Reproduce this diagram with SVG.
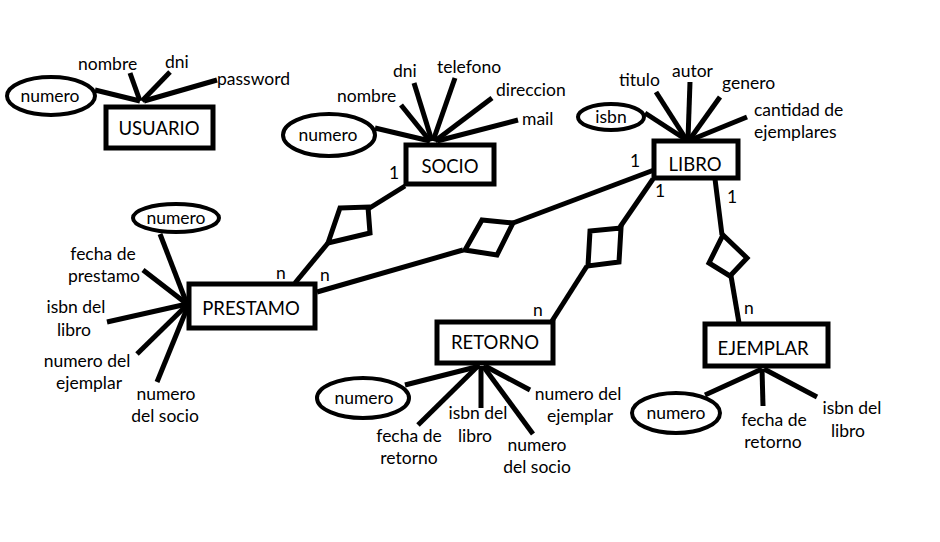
<svg xmlns="http://www.w3.org/2000/svg" width="940" height="542" viewBox="0 0 940 542">
<style>
text{font-family:Lato,"Open Sans","Liberation Sans",sans-serif;font-size:17.5px;fill:#000}
.ent{font-size:18.5px;text-anchor:middle}
.m{text-anchor:middle}
.box{fill:#fff;stroke:#000;stroke-width:5}
.ell{fill:#fff;stroke:#000;stroke-width:4}
.ln{stroke:#000;stroke-width:5;fill:none}
.dia{fill:#fff;stroke:#000;stroke-width:5;stroke-linejoin:miter}
</style>
<rect width="940" height="542" fill="#fff"/>
<g id="connectors">
<!-- USUARIO attributes -->
<line class="ln" x1="95" y1="90" x2="140" y2="101"/>
<line class="ln" x1="130" y1="73" x2="140" y2="101"/>
<line class="ln" x1="170" y1="72" x2="142" y2="101"/>
<line class="ln" x1="217" y1="80" x2="144" y2="101"/>
<!-- SOCIO attributes -->
<line class="ln" x1="375" y1="128" x2="430" y2="141"/>
<line class="ln" x1="401" y1="105" x2="430" y2="141"/>
<line class="ln" x1="414" y1="83" x2="432" y2="141"/>
<line class="ln" x1="455" y1="78" x2="433" y2="141"/>
<line class="ln" x1="492" y1="98" x2="435" y2="141"/>
<line class="ln" x1="518" y1="120" x2="437" y2="141"/>
<!-- LIBRO attributes -->
<line class="ln" x1="645" y1="113" x2="685" y2="139"/>
<line class="ln" x1="656" y1="92" x2="686" y2="139"/>
<line class="ln" x1="690" y1="82" x2="688" y2="139"/>
<line class="ln" x1="720" y1="97" x2="690" y2="139"/>
<line class="ln" x1="747" y1="117" x2="693" y2="139"/>
<!-- PRESTAMO attributes -->
<line class="ln" x1="160" y1="234" x2="187" y2="304"/>
<line class="ln" x1="143" y1="270" x2="187" y2="304"/>
<line class="ln" x1="107" y1="322" x2="187" y2="304"/>
<line class="ln" x1="137" y1="354" x2="187" y2="305"/>
<line class="ln" x1="157" y1="382" x2="188" y2="306"/>
<!-- RETORNO attributes -->
<line class="ln" x1="405" y1="385" x2="480" y2="366"/>
<line class="ln" x1="418" y1="425" x2="478" y2="366"/>
<line class="ln" x1="481" y1="408" x2="481" y2="366"/>
<line class="ln" x1="533" y1="434" x2="483" y2="366"/>
<line class="ln" x1="530" y1="390" x2="485" y2="366"/>
<!-- EJEMPLAR attributes -->
<line class="ln" x1="705" y1="395" x2="762" y2="369"/>
<line class="ln" x1="763" y1="406" x2="762" y2="369"/>
<line class="ln" x1="817" y1="397" x2="764" y2="369"/>
<!-- relationships -->
<line class="ln" x1="405" y1="186" x2="368" y2="209"/>
<line class="ln" x1="328" y1="243" x2="295" y2="283"/>
<line class="ln" x1="317" y1="292" x2="463" y2="250"/>
<line class="ln" x1="513" y1="223" x2="654" y2="170"/>
<line class="ln" x1="653" y1="179" x2="620" y2="227"/>
<line class="ln" x1="587" y1="266" x2="552" y2="321"/>
<line class="ln" x1="715" y1="179" x2="722" y2="235"/>
<line class="ln" x1="731" y1="276" x2="739" y2="323"/>
</g>
<g id="rel-socio-prestamo"><polygon class="dia" points="340,208 368,207 370,233 328,243"/></g>
<g id="rel-prestamo-libro"><polygon class="dia" points="482,220 513,223 497,255 465,250"/></g>
<g id="rel-retorno-libro"><polygon class="dia" points="590,231 621,228 619,262 588,266"/></g>
<g id="rel-libro-ejemplar"><polygon class="dia" points="723,235 747,258 730,276 709,263"/></g>

<g id="usuario">
<rect class="box" x="106" y="107" width="107" height="41"/>
<text class="ent" x="159" y="135">USUARIO</text>
<ellipse class="ell" cx="51" cy="96" rx="44" ry="19"/>
<text class="m" x="50" y="102">numero</text>
<text x="78" y="70">nombre</text>
<text x="165" y="68">dni</text>
<text x="217" y="85">password</text>
</g>
<g id="socio">
<rect class="box" x="406" y="145" width="88" height="39"/>
<text class="ent" x="450" y="173">SOCIO</text>
<ellipse class="ell" cx="329" cy="135" rx="46" ry="21"/>
<text class="m" x="328" y="141">numero</text>
<text x="337" y="102">nombre</text>
<text x="393" y="77">dni</text>
<text x="437" y="73">telefono</text>
<text x="496" y="96">direccion</text>
<text x="522" y="125">mail</text>
<text x="389" y="179">1</text>
</g>
<g id="libro">
<rect class="box" x="654" y="141" width="84" height="37"/>
<text class="ent" x="695" y="171">LIBRO</text>
<ellipse class="ell" cx="611" cy="117" rx="33" ry="13"/>
<text class="m" x="611" y="123">isbn</text>
<text x="619" y="86">titulo</text>
<text x="672" y="77">autor</text>
<text x="722" y="89">genero</text>
<text x="754" y="116">cantidad de</text>
<text x="754" y="138">ejemplares</text>
<text x="630" y="167">1</text>
<text x="655" y="197">1</text>
<text x="727" y="203">1</text>
</g>
<g id="prestamo">
<rect class="box" x="189" y="284" width="126" height="44"/>
<text class="ent" x="251" y="315">PRESTAMO</text>
<ellipse class="ell" cx="176" cy="218" rx="43" ry="14"/>
<text class="m" x="176" y="224">numero</text>
<text class="m" x="103" y="260">fecha de</text>
<text class="m" x="104" y="282">prestamo</text>
<text class="m" x="76" y="313">isbn del</text>
<text class="m" x="74" y="336">libro</text>
<text class="m" x="87" y="367">numero del</text>
<text class="m" x="89" y="389">ejemplar</text>
<text class="m" x="166" y="400">numero</text>
<text class="m" x="165" y="422">del socio</text>
<text x="276" y="279">n</text>
<text x="320" y="281">n</text>
</g>
<g id="retorno">
<rect class="box" x="437" y="322" width="116" height="41"/>
<text class="ent" x="495" y="349">RETORNO</text>
<ellipse class="ell" cx="363" cy="398" rx="46" ry="20"/>
<text class="m" x="364" y="404">numero</text>
<text class="m" x="409" y="442">fecha de</text>
<text class="m" x="409" y="464">retorno</text>
<text class="m" x="478" y="419">isbn del</text>
<text class="m" x="475" y="442">libro</text>
<text class="m" x="537" y="451">numero</text>
<text class="m" x="537" y="473">del socio</text>
<text class="m" x="578" y="400">numero del</text>
<text class="m" x="580" y="422">ejemplar</text>
<text x="533" y="316">n</text>
</g>
<g id="ejemplar">
<rect class="box" x="705" y="324" width="123" height="42"/>
<text class="ent" x="763" y="355">EJEMPLAR</text>
<ellipse class="ell" cx="676" cy="413" rx="44" ry="20"/>
<text class="m" x="676" y="419">numero</text>
<text class="m" x="774" y="426">fecha de</text>
<text class="m" x="773" y="448">retorno</text>
<text class="m" x="852" y="414">isbn del</text>
<text class="m" x="848" y="437">libro</text>
<text x="744" y="314">n</text>
</g>
</svg>
